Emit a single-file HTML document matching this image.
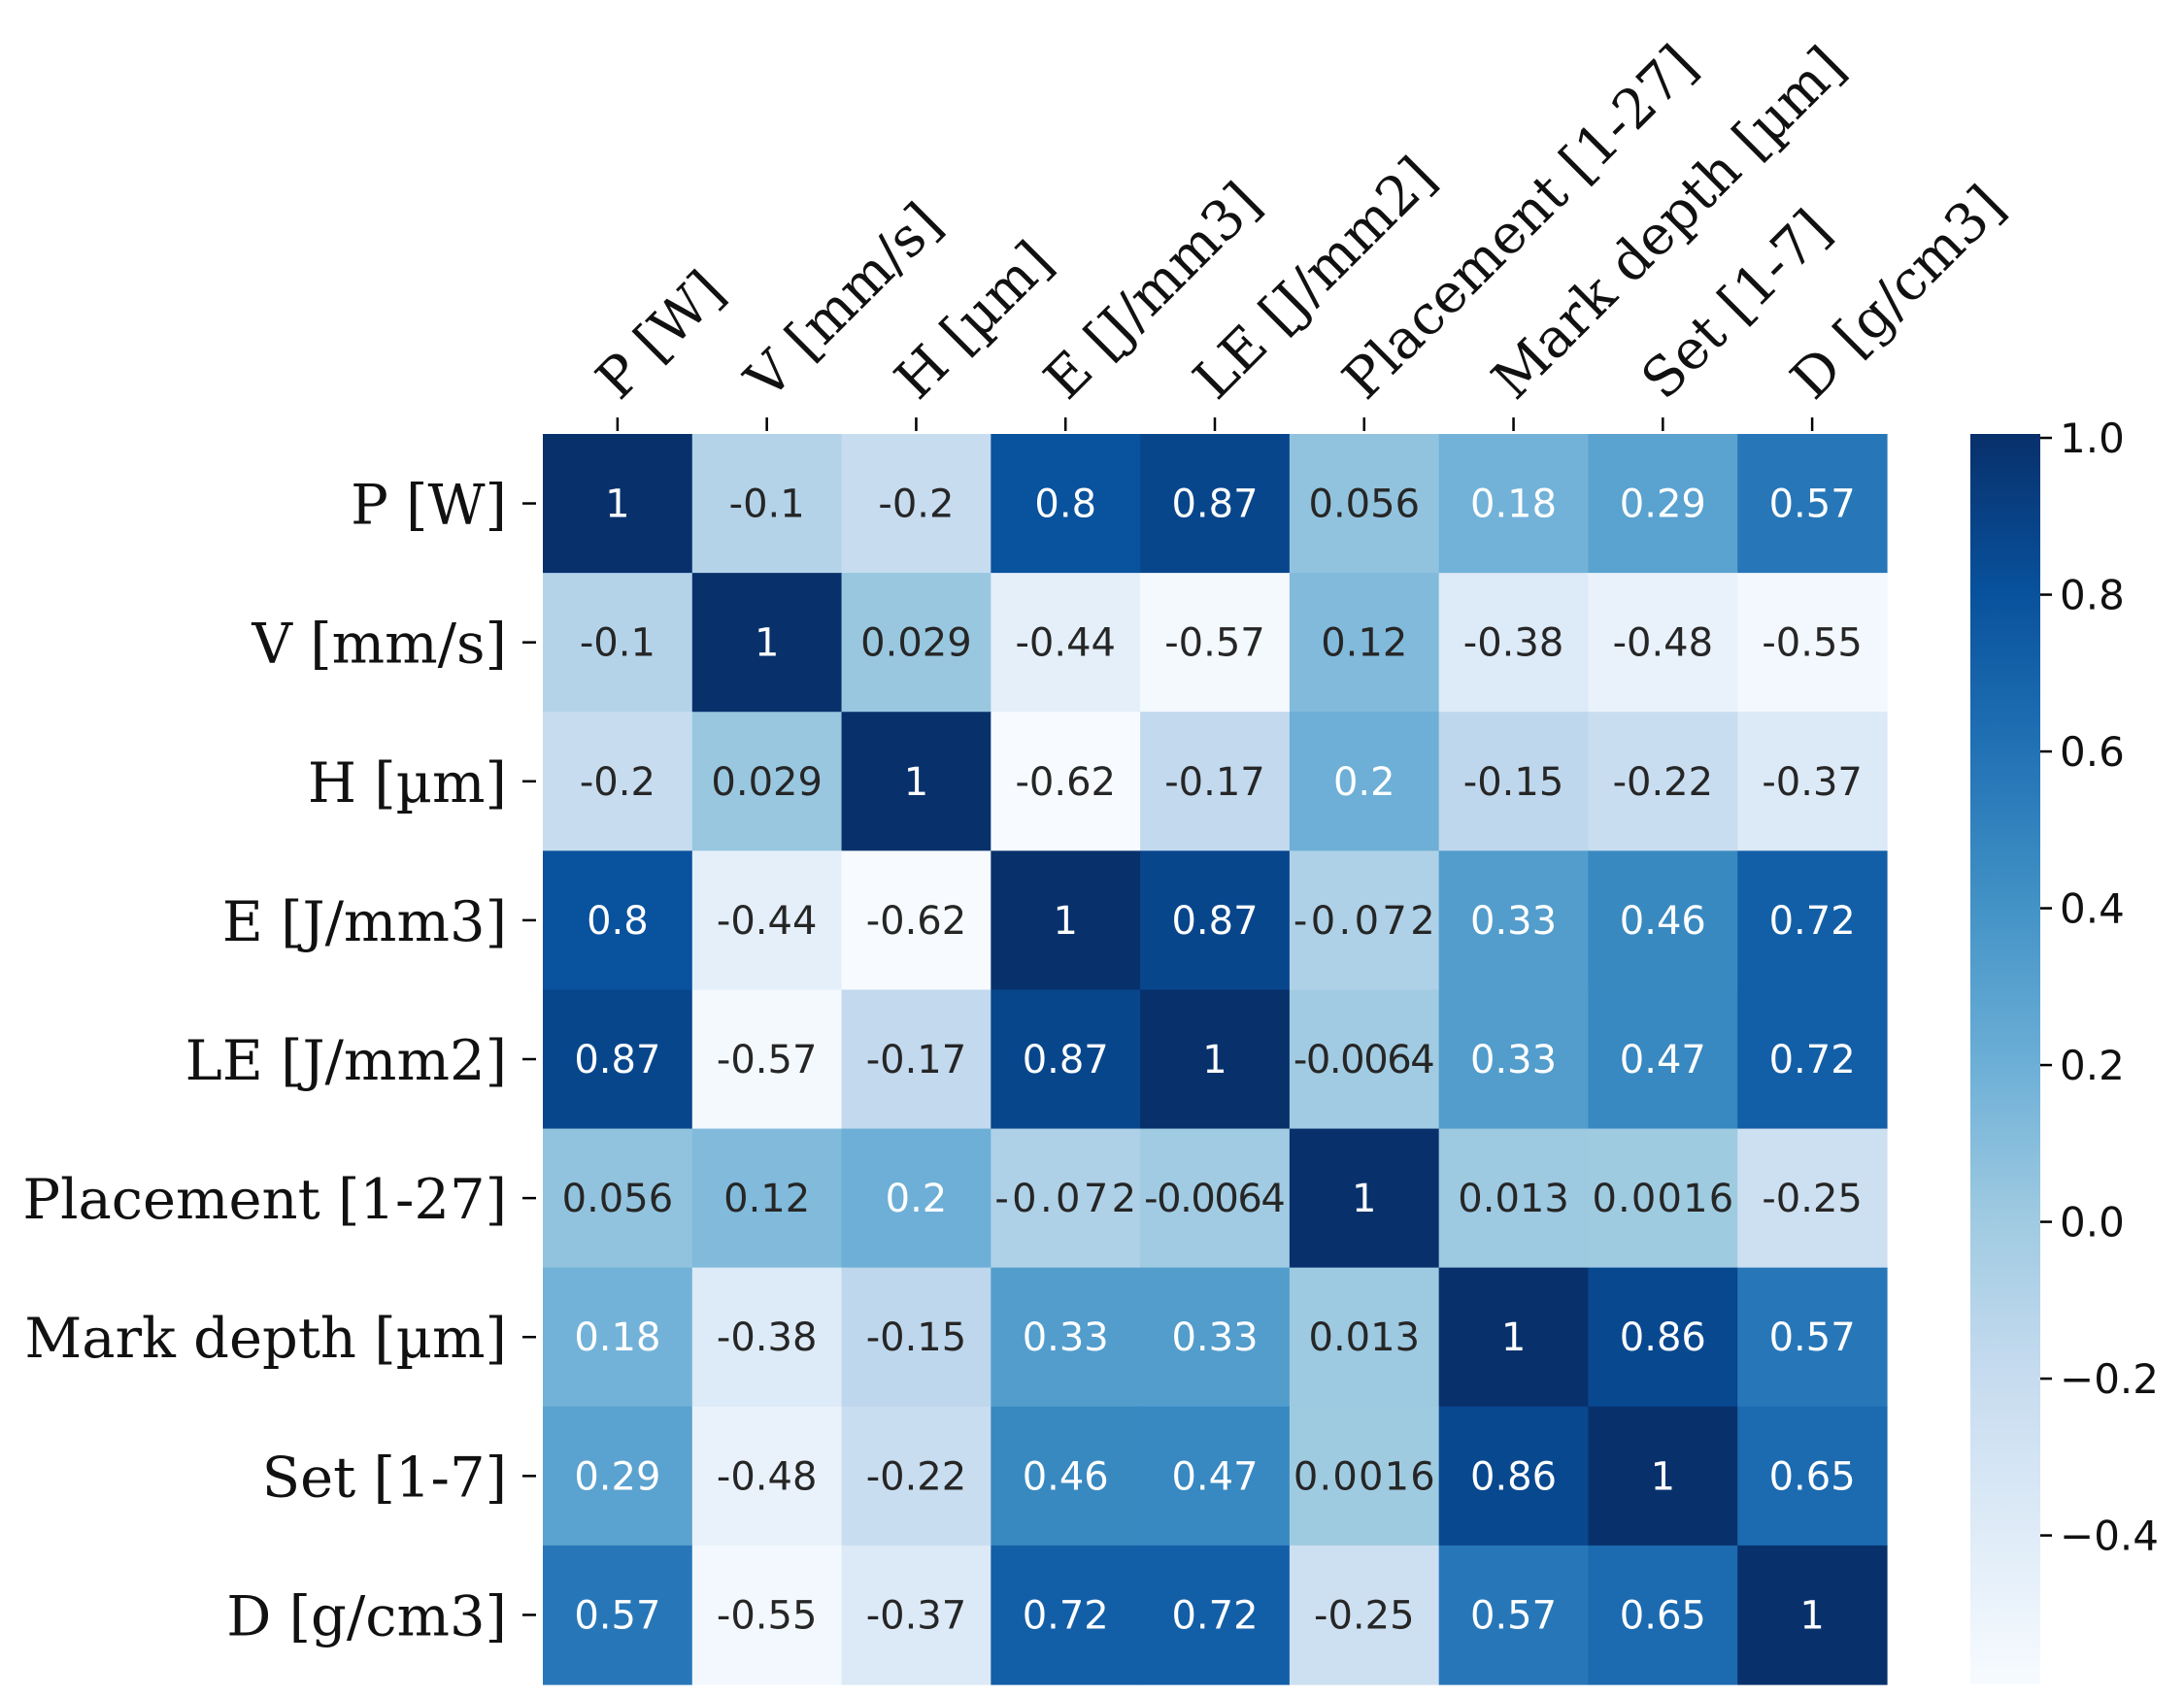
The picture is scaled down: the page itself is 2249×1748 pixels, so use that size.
<!DOCTYPE html>
<html><head><meta charset="utf-8"><style>
html,body{margin:0;padding:0;background:#fff;}
svg{display:block;}
</style></head><body>
<svg id="chart" xmlns="http://www.w3.org/2000/svg" width="2249" height="1748" viewBox="0 0 2249 1748">
<rect width="2249" height="1748" fill="#fff"/>
<g id="cells"></g><g id="ylabels"></g><g id="xlabels"></g><g id="cbar"></g>
</svg>
<script>
const labels = ["P [W]","V [mm/s]","H [µm]","E [J/mm3]","LE [J/mm2]","Placement [1-27]","Mark depth [µm]","Set [1-7]","D [g/cm3]"];
const row0 = [1,-0.1,-0.2,0.8,0.87,0.056,0.18,0.29,0.57];
const row1 = [-0.1,1,0.029,-0.44,-0.57,0.12,-0.38,-0.48,-0.55];
const row2 = [-0.2,0.029,1,-0.62,-0.17,0.2,-0.15,-0.22,-0.37];
const row3 = [0.8,-0.44,-0.62,1,0.87,-0.072,0.33,0.46,0.72];
const row4 = [0.87,-0.57,-0.17,0.87,1,-0.0064,0.33,0.47,0.72];
const row5 = [0.056,0.12,0.2,-0.072,-0.0064,1,0.013,0.0016,-0.25];
const row6 = [0.18,-0.38,-0.15,0.33,0.33,0.013,1,0.86,0.57];
const row7 = [0.29,-0.48,-0.22,0.46,0.47,0.0016,0.86,1,0.65];
const row8 = [0.57,-0.55,-0.37,0.72,0.72,-0.25,0.57,0.65,1];
const matrix = [row0,row1,row2,row3,row4,row5,row6,row7,row8];
const cbTicks = [1.0,0.8,0.6,0.4,0.2,0.0,-0.2,-0.4];
const vmin = -0.59, vmax = 1.005;

const NS="http://www.w3.org/2000/svg";
const X0=559,X1=1943,Y0=447,Y1=1735;
const n=labels.length, cw=(X1-X0)/n, ch=(Y1-Y0)/n;
const xPos=i=>X0+i*cw, yPos=i=>Y0+i*ch;
const stops=["#f7fbff","#deebf7","#c6dbef","#9ecae1","#6baed6","#4292c6","#2171b5","#08519c","#08306b"].map(h=>[1,3,5].map(k=>parseInt(h.substr(k,2),16)));
function cmap(v){let t=Math.max(0,Math.min(1,(v-vmin)/(vmax-vmin)))*(stops.length-1);let i=Math.min(Math.floor(t),stops.length-2),f=t-i;return stops[i].map((c,k)=>Math.round(c+(stops[i+1][k]-c)*f));}
function lum(c){const l=c.map(x=>{x/=255;return x<=0.03928?x/12.92:Math.pow((x+0.055)/1.055,2.4)});return 0.2126*l[0]+0.7152*l[1]+0.0722*l[2];}
function mk(tag,attrs,parent){const e=document.createElementNS(NS,tag);for(const k in attrs)e.setAttribute(k,attrs[k]);parent.appendChild(e);return e;}
const cells=document.getElementById('cells');
matrix.forEach((row,r)=>row.forEach((v,c)=>{
  const col=cmap(v);
  const rc=mk('rect',{x:xPos(c),y:yPos(r),width:cw+0.6,height:ch+0.6,fill:`rgb(${col})`},cells);
  
  
  const t=mk('text',{x:xPos(c)+cw/2,y:yPos(r)+ch/2+14,'text-anchor':'middle','font-family':'DejaVu Sans, sans-serif','font-size':40,fill:lum(col)>0.408?'#262626':'#ffffff'},cells);
  
  
  t.textContent=String(v);
  if(String(v).length>=6) t.setAttribute('textLength',cw-8);
}));
const yl=document.getElementById('ylabels'), xl=document.getElementById('xlabels');
labels.forEach((lab,i)=>{
  const cy=yPos(i)+ch/2;
  mk('line',{x1:538,x2:552,y1:cy,y2:cy,stroke:'#000','stroke-width':2.5},yl);
  const t=mk('text',{x:522,y:cy+21,'text-anchor':'end','font-family':'DejaVu Serif, serif','font-size':57.5,fill:'#111'},yl);
  
  
  t.textContent=lab;
  const cx=xPos(i)+cw/2;
  mk('line',{x1:cx,x2:cx,y1:430,y2:444,stroke:'#000','stroke-width':2.5},xl);
  const tx=mk('text',{x:0,y:0,'text-anchor':'start','font-family':'DejaVu Serif, serif','font-size':56,fill:'#111',transform:`translate(${cx+2},${414}) rotate(-45)`},xl);
  
  
  tx.textContent=lab;
});
const cb=document.getElementById('cbar');
const CBX=2029,CBW=72;
const defs=mk('defs',{},cb);
const g=mk('linearGradient',{id:'cbg',x1:0,y1:1,x2:0,y2:0},defs);
stops.forEach((s,i)=>mk('stop',{offset:i/(stops.length-1),'stop-color':`rgb(${s})`},g));
const cbr=mk('rect',{x:CBX,y:Y0,width:CBW,height:Y1-Y0,fill:'url(#cbg)'},cb);


const cy=v=>Y1-(v-vmin)/(vmax-vmin)*(Y1-Y0);
cbTicks.forEach(v=>{
  const y=cy(v);
  mk('line',{x1:CBX+CBW,x2:CBX+CBW+12,y1:y,y2:y,stroke:'#000','stroke-width':2.5},cb);
  const t=mk('text',{x:CBX+CBW+20,y:y+15,'font-family':'DejaVu Sans, sans-serif','font-size':42,fill:'#111'},cb);
  
  
  t.textContent=(v<0?'\u2212':'')+Math.abs(v).toFixed(1);
});
</script>
</body></html>
